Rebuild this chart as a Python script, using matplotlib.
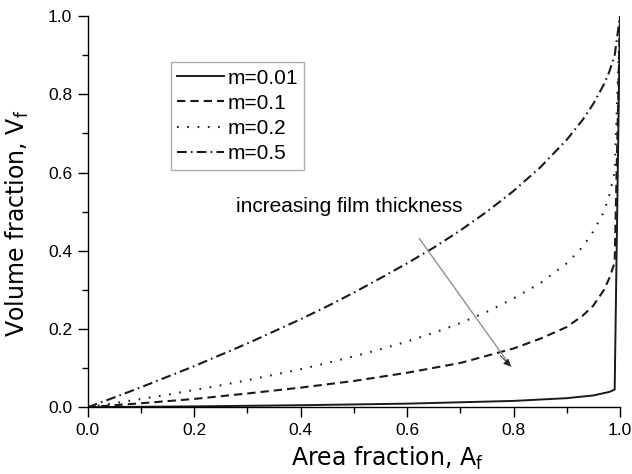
import matplotlib
matplotlib.use("Agg")
import matplotlib.pyplot as plt

plt.rcParams['font.family'] = ['Liberation Sans', 'DejaVu Sans']
plt.rcParams['mathtext.fontset'] = 'custom'
plt.rcParams['mathtext.rm'] = 'Liberation Sans'
plt.rcParams['lines.scale_dashes'] = False

# values
x_m001 = [0.0, 0.2, 0.4, 0.6, 0.8, 0.9, 0.95, 0.98, 0.99, 1.0]
y_m001 = [0.0, 0.002, 0.005, 0.009, 0.016, 0.023, 0.03, 0.039, 0.045, 1.0]

x_m01 = [0.0, 0.1, 0.2, 0.3, 0.4, 0.5, 0.6, 0.7, 0.8, 0.85, 0.9, 0.93, 0.95,
         0.97, 0.98, 0.99, 1.0]
y_m01 = [0.0, 0.01, 0.021, 0.035, 0.05, 0.067, 0.088, 0.113, 0.15, 0.175,
         0.205, 0.234, 0.26, 0.30, 0.33, 0.37, 1.0]

x_m02 = [0.0, 0.05, 0.1, 0.15, 0.2, 0.25, 0.3, 0.35, 0.4, 0.45, 0.5, 0.55,
         0.6, 0.65, 0.7, 0.75, 0.8, 0.85, 0.9, 0.93, 0.95, 0.97, 0.98, 0.99, 1.0]
y_m02 = [0.0, 0.01, 0.021, 0.032, 0.044, 0.056, 0.069, 0.083, 0.097, 0.113,
         0.13, 0.148, 0.168, 0.19, 0.215, 0.244, 0.278, 0.317, 0.368, 0.41,
         0.45, 0.5, 0.543, 0.6, 1.0]

x_m05 = [0.0, 0.05, 0.1, 0.15, 0.2, 0.25, 0.3, 0.35, 0.4, 0.45, 0.5, 0.55,
         0.6, 0.65, 0.7, 0.75, 0.8, 0.85, 0.9, 0.93, 0.95, 0.97, 0.98, 0.99, 1.0]
y_m05 = [0.0, 0.025, 0.051, 0.078, 0.105, 0.134, 0.163, 0.194, 0.225, 0.258,
         0.293, 0.33, 0.368, 0.408, 0.452, 0.5, 0.553, 0.613, 0.684, 0.735,
         0.776, 0.826, 0.858, 0.9, 1.0]

labels = ['m=0.01', 'm=0.1', 'm=0.2', 'm=0.5']

fig = plt.figure(figsize=(6.32, 4.74), dpi=100)
ax = fig.add_axes([0.139, 0.141, 0.842, 0.825])

c = '#1a1a1a'
ax.plot(x_m001, y_m001, color=c, lw=1.4, label=labels[0])
ax.plot(x_m01, y_m01, color=c, lw=1.5, dashes=(6, 3.6), label=labels[1])
ax.plot(x_m02, y_m02, color=c, lw=1.5, dashes=(1.2, 6.2), label=labels[2])
ax.plot(x_m05, y_m05, color=c, lw=1.5, dashes=(7, 3, 1.2, 3), label=labels[3])

ax.annotate('', xy=(0.795, 0.104), xytext=(0.623, 0.431),
            arrowprops=dict(arrowstyle='-', color='#909090', lw=1,
                            shrinkA=0, shrinkB=0))
ax.annotate('', xy=(0.795, 0.104), xytext=(0.775, 0.132),
            arrowprops=dict(arrowstyle='-|>', color='#222222', lw=0.6,
                            mutation_scale=11, shrinkA=0, shrinkB=0))
ax.text(0.278, 0.514, 'increasing film thickness', fontsize=15,
        va='center', ha='left')

ax.set_xlim(0, 1)
ax.set_ylim(0, 1)
ax.set_xticks([0.0, 0.2, 0.4, 0.6, 0.8, 1.0])
ax.set_yticks([0.0, 0.2, 0.4, 0.6, 0.8, 1.0])
ax.set_xticks([0.1, 0.3, 0.5, 0.7, 0.9], minor=True)
ax.set_yticks([0.1, 0.3, 0.5, 0.7, 0.9], minor=True)
ax.tick_params(which='major', direction='out', length=7.2, width=1,
               labelsize=12.5, pad=4)
ax.tick_params(which='minor', direction='out', length=4, width=1)
ax.spines['top'].set_visible(False)
ax.spines['right'].set_visible(False)
for s in ['left', 'bottom']:
    ax.spines[s].set_linewidth(1)

ax.set_xlabel('Area fraction, A$_\\mathregular{f}$', fontsize=17,
              family=['DejaVu Sans'])
ax.set_ylabel('Volume fraction, V$_\\mathregular{f}$', fontsize=17,
              family=['DejaVu Sans'])
ax.xaxis.set_label_coords(0.563, -0.095)
ax.yaxis.set_label_coords(-0.107, 0.47)

leg = ax.legend(loc='upper left', bbox_to_anchor=(0.156, 0.882), fontsize=15,
                fancybox=False, frameon=True, handlelength=2.25,
                borderpad=0.3, labelspacing=0.3, handletextpad=0.15,
                borderaxespad=0)
leg.get_frame().set_edgecolor('#999999')
leg.get_frame().set_linewidth(1)

fig.savefig('out.png', dpi=100)
